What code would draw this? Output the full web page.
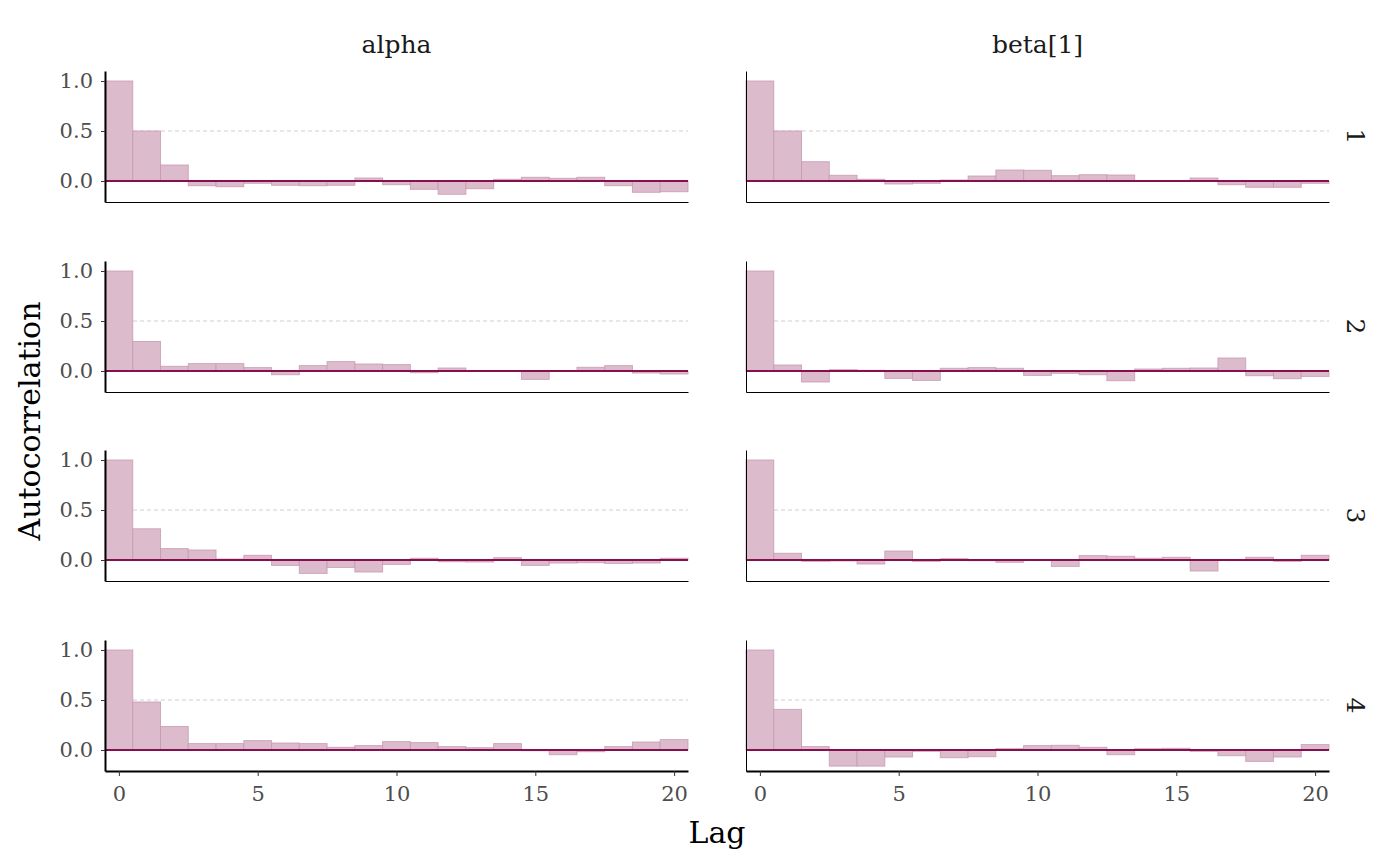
<!DOCTYPE html>
<html>
<head>
<meta charset="utf-8">
<script src="https://cdn.jsdelivr.net/npm/d3@7"></script>
<style>
  body { margin: 0; background: #fff; }
  text { font-family: "DejaVu Serif", serif; }
</style>
</head>
<body>
<div id="chart"></div>
<script>
// Autocorrelation by lag, one array per parameter and chain

const lags = [0, 1, 2, 3, 4, 5, 6, 7, 8, 9, 10, 11, 12, 13, 14, 15, 16, 17, 18, 19, 20];
const parameters = ["alpha", "beta[1]"];
const chains = ["1", "2", "3", "4"];
const xTicks = [0, 5, 10, 15, 20];
const yTicks = [0, 0.5, 1];

const alphaChain1 = [1.0, 0.5, 0.16, -0.047, -0.057, -0.023, -0.043, -0.047, -0.043, 0.03, -0.037,
  -0.083, -0.133, -0.077, 0.017, 0.037, 0.027, 0.037, -0.047, -0.113, -0.107];
const alphaChain2 = [1.0, 0.295, 0.047, 0.074, 0.074, 0.034, -0.037, 0.054, 0.094, 0.07, 0.064,
  -0.017, 0.03, 0.002, 0.001, -0.084, 0.003, 0.037, 0.054, -0.02, -0.03];
const alphaChain3 = [1.0, 0.312, 0.114, 0.1, 0.01, 0.047, -0.054, -0.134, -0.074, -0.12, -0.044,
  0.017, -0.017, -0.02, 0.023, -0.054, -0.03, -0.027, -0.034, -0.03, 0.017];
const alphaChain4 = [1.0, 0.48, 0.235, 0.064, 0.064, 0.094, 0.07, 0.064, 0.027, 0.044, 0.084,
  0.074, 0.034, 0.023, 0.064, -0.007, -0.047, -0.017, 0.034, 0.08, 0.104];

const betaChain1 = [1.0, 0.5, 0.193, 0.057, 0.017, -0.03, -0.023, 0.01, 0.05, 0.11, 0.107,
  0.053, 0.063, 0.06, 0.001, 0.002, 0.03, -0.037, -0.063, -0.063, -0.023];
const betaChain2 = [1.0, 0.06, -0.11, 0.013, 0.007, -0.074, -0.094, 0.027, 0.034, 0.027, -0.044,
  -0.023, -0.037, -0.097, 0.02, 0.027, 0.03, 0.13, -0.047, -0.077, -0.054];
const betaChain3 = [1.0, 0.067, -0.013, -0.01, -0.04, 0.09, -0.013, 0.013, -0.007, -0.023, 0.001,
  -0.064, 0.044, 0.037, 0.017, 0.027, -0.11, 0.001, 0.027, -0.013, 0.047];
const betaChain4 = [1.0, 0.406, 0.034, -0.161, -0.161, -0.07, -0.013, -0.077, -0.067, 0.013, 0.044,
  0.047, 0.027, -0.047, 0.013, 0.017, -0.013, -0.057, -0.114, -0.07, 0.054];

const acf = {
  alpha: [alphaChain1, alphaChain2, alphaChain3, alphaChain4],
  "beta[1]": [betaChain1, betaChain2, betaChain3, betaChain4],
};

const colors = {
  light: "#dcbccc",
  lightHighlight: "#c799b0",
  darkHighlight: "#86104f",
};

function createAcfGrid(containerId) {
  const width = 1400;
  const height = 866;
  const colLeft = [105, 746];
  const panelWidth = 583;
  const rowTop = [71, 261, 450, 640];
  const panelHeight = 131;

  const svg = d3
    .select(containerId)
    .append("svg")
    .attr("width", width)
    .attr("height", height);

  parameters.forEach((param, col) => {
    const xScale = d3
      .scaleLinear()
      .domain([-0.5, 20.5])
      .range([colLeft[col], colLeft[col] + panelWidth]);

    // Strip label on top
    svg
      .append("text")
      .attr("x", colLeft[col] + panelWidth / 2)
      .attr("y", 53)
      .attr("text-anchor", "middle")
      .attr("font-size", "25px")
      .attr("fill", "#1a1a1a")
      .text(param);

    chains.forEach((chain, row) => {
      const yScale = d3
        .scaleLinear()
        .domain([-0.21, 1.1])
        .range([rowTop[row] + panelHeight, rowTop[row]]);

      const values = acf[param][row];
      const data = lags.map((lag, i) => ({ lag: lag, value: values[i] }));
      const g = svg.append("g");

      // Reference line at 0.5
      g.append("line")
        .attr("x1", xScale(-0.5))
        .attr("x2", xScale(20.5))
        .attr("y1", yScale(0.5))
        .attr("y2", yScale(0.5))
        .attr("stroke", "#cfcfcf")
        .attr("stroke-width", 1)
        .attr("stroke-dasharray", "4,3");

      g.selectAll("rect")
        .data(data)
        .enter()
        .append("rect")
        .attr("x", (d) => xScale(d.lag - 0.5))
        .attr("width", (d) => xScale(d.lag + 0.5) - xScale(d.lag - 0.5))
        .attr("y", (d) => yScale(Math.max(0, d.value)))
        .attr("height", (d) => Math.abs(yScale(d.value) - yScale(0)))
        .attr("fill", colors.light)
        .attr("stroke", colors.lightHighlight)
        .attr("stroke-opacity", 0.8)
        .attr("stroke-width", 1);

      // Zero line
      g.append("line")
        .attr("x1", xScale(-0.5))
        .attr("x2", xScale(20.5))
        .attr("y1", yScale(0))
        .attr("y2", yScale(0))
        .attr("stroke", colors.darkHighlight)
        .attr("stroke-width", 1.8);

      // Axis

      const isLeft = col === 0;
      const isBottom = row === chains.length - 1;

      const yAxis = g
        .append("g")
        .attr("transform", `translate(${colLeft[col]}, 0)`)
        .call(
          d3
            .axisLeft(yScale)
            .tickValues(isLeft ? yTicks : [])
            .tickFormat(d3.format(".1f"))
            .tickSize(4)
            .tickSizeOuter(0)
            .tickPadding(8)
        );
      yAxis.select(".domain").attr("stroke", "#000").attr("stroke-width", isLeft ? 2 : 1);
      yAxis.selectAll(".tick line").attr("stroke", "#333");
      yAxis
        .selectAll(".tick text")
        .attr("fill", "#4d4d4d")
        .attr("font-size", "21px")
        .attr("font-family", "DejaVu Serif, serif");

      const xAxis = g
        .append("g")
        .attr("transform", `translate(0, ${rowTop[row] + panelHeight})`)
        .call(
          d3
            .axisBottom(xScale)
            .tickValues(isBottom ? xTicks : [])
            .tickSize(5)
            .tickSizeOuter(0)
            .tickPadding(10)
        );
      xAxis.select(".domain").attr("stroke", "#000").attr("stroke-width", isBottom ? 2 : 1);
      xAxis.selectAll(".tick line").attr("stroke", "#333");
      xAxis
        .selectAll(".tick text")
        .attr("fill", "#4d4d4d")
        .attr("font-size", "21px")
        .attr("font-family", "DejaVu Serif, serif");

      // Strip label on the right
      if (col === parameters.length - 1) {
        const cy = rowTop[row] + panelHeight / 2;
        svg
          .append("text")
          .attr("transform", `translate(1347, ${cy}) rotate(90)`)
          .attr("text-anchor", "middle")
          .attr("font-size", "25px")
          .attr("fill", "#1a1a1a")
          .text(chain);
      }
    });
  });

  svg
    .append("text")
    .attr("x", 717)
    .attr("y", 843)
    .attr("text-anchor", "middle")
    .attr("font-size", "30px")
    .text("Lag");

  svg
    .append("text")
    .attr("transform", `translate(40, 421) rotate(-90)`)
    .attr("text-anchor", "middle")
    .attr("font-size", "30px")
    .text("Autocorrelation");
}

createAcfGrid("#chart");
</script>
</body>
</html>
